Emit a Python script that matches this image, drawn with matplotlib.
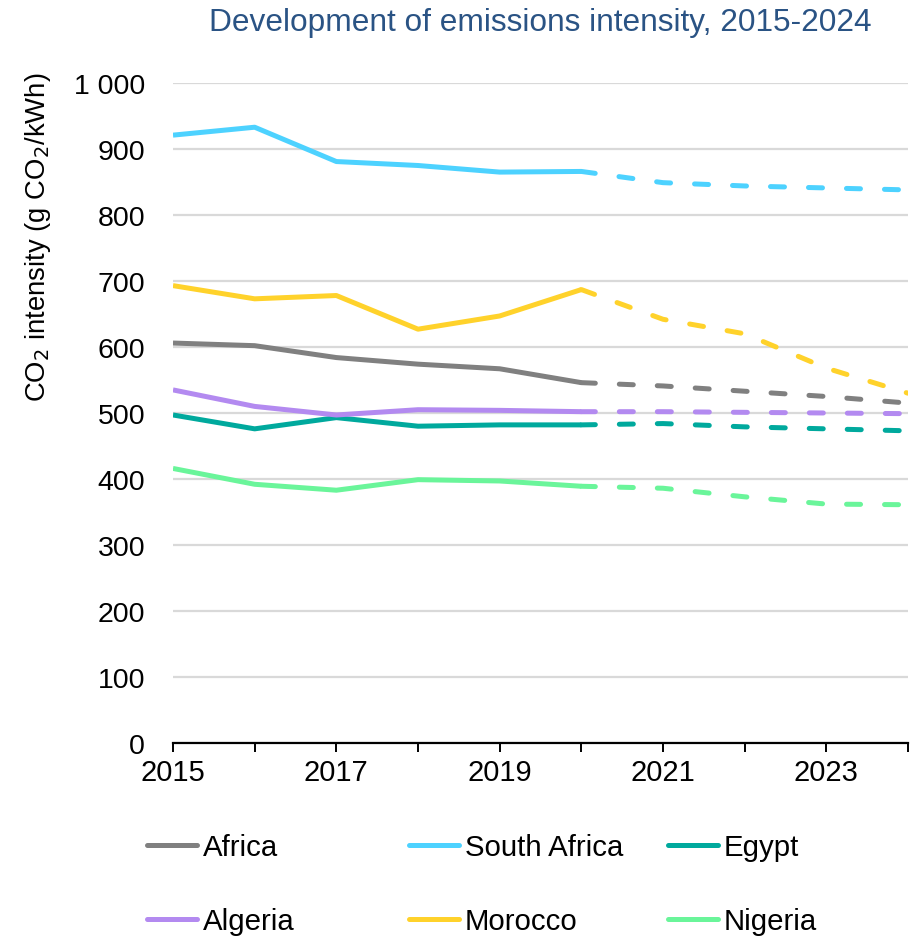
import matplotlib
matplotlib.use("Agg")
import matplotlib.pyplot as plt
from matplotlib.lines import Line2D

plt.rcParams['font.family'] = ['Liberation Sans', 'DejaVu Sans']

# data
years = [2015, 2016, 2017, 2018, 2019, 2020, 2021, 2022, 2023, 2024]
split_year = 2020  # solid up to here, dashed afterwards

africa = [606, 602, 584, 574, 567, 546, 541, 533, 525, 515]
south_africa = [921, 933, 881, 875, 865, 866, 849, 844, 841, 838]
egypt = [497, 476, 493, 480, 482, 482, 484, 479, 476, 473]
algeria = [535, 510, 497, 505, 504, 502, 502, 501, 500, 499]
morocco = [693, 673, 678, 627, 647, 687, 642, 620, 568, 530]
nigeria = [416, 392, 383, 399, 397, 389, 386, 373, 362, 361]

names = ["Africa", "South Africa", "Egypt", "Algeria", "Morocco", "Nigeria"]
series = [africa, south_africa, egypt, algeria, morocco, nigeria]
colors = ["#808080", "#4dd2ff", "#00a99d", "#b38af0", "#ffd22b", "#6af59a"]

yticks = list(range(0, 1001, 100))
xtick_years = [2015, 2017, 2019, 2021, 2023]

W, H = 911, 937
fig = plt.figure(figsize=(W / 100, H / 100), dpi=100)
ax = fig.add_axes([173 / W, 1 - 744 / H, (908 - 173) / W, (744 - 84) / H])

lw = 3.6
k = years.index(split_year)
for vals, col in zip(series, colors):
    ax.plot(years[:k + 1], vals[:k + 1], color=col, lw=lw,
            solid_capstyle='butt', solid_joinstyle='round', zorder=3)
    ax.plot(years[k:], vals[k:], color=col, lw=lw, linestyle=(0, (2.8, 4.8)),
            dash_capstyle='round', zorder=3)

ax.set_xlim(2015, 2024)
ax.set_ylim(0, 1000)
ax.set_yticks(yticks)
ax.set_yticklabels([f"{v:,}".replace(",", " ") for v in yticks])
ax.set_xticks(years)
ax.set_xticklabels([str(y) if y in xtick_years else "" for y in years])

ax.grid(axis='y', color='#d9d9d9', lw=1.6, zorder=0)
ax.set_axisbelow(True)
for s in ['top', 'right', 'left']:
    ax.spines[s].set_visible(False)
ax.spines['bottom'].set_linewidth(1.6)
ax.spines['bottom'].set_zorder(4)
ax.tick_params(axis='y', length=0, pad=20, labelsize=20.5)
ax.tick_params(axis='x', length=6.5, width=1.4, direction='out', pad=4.5, labelsize=21)

ax.set_ylabel("CO$_2$ intensity (g CO$_2$/kWh)", fontsize=19.8)
ax.yaxis.set_label_coords(-0.163, 0.767)

fig.text(540 / W, 1 - 23 / H, "Development of emissions intensity, 2015-2024",
         color="#2a5384", fontsize=22.8, ha='center', va='center')

# legend: three columns of two entries
leg_fs = 21.2
col_x = [147, 409, 668]
for c in range(3):
    handles = []
    for r in range(2):
        i = r * 3 + c
        handles.append(Line2D([], [], color=colors[i], lw=lw,
                              solid_capstyle='round', label=names[i]))
    fig.legend(handles=handles, loc='center left',
               bbox_to_anchor=(col_x[c] / W, 1 - 885 / H),
               frameon=False, fontsize=leg_fs, handlelength=1.7,
               handletextpad=0.19, labelspacing=1.57,
               borderpad=0, borderaxespad=0)

fig.savefig("out.png", dpi=100)
